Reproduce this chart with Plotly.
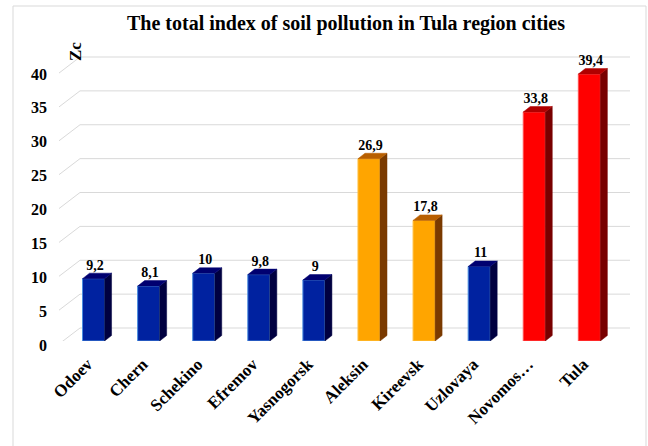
import plotly.graph_objects as go

# ---- data ----
cities = ["Odoev", "Chern", "Schekino", "Efremov", "Yasnogorsk",
          "Aleksin", "Kireevsk", "Uzlovaya", "Novomos…", "Tula"]
zc_values = [9.2, 8.1, 10, 9.8, 9, 26.9, 17.8, 11, 33.8, 39.4]
value_labels = ["9,2", "8,1", "10", "9,8", "9", "26,9", "17,8", "11", "33,8", "39,4"]
groups = ["blue", "blue", "blue", "blue", "blue", "orange", "orange", "blue", "red", "red"]
y_ticks = [0, 5, 10, 15, 20, 25, 30, 35, 40]

# ---- styles ----
FONT = "Liberation Serif, Times New Roman, serif"
palette = {
    "blue":   dict(front="#0022A0", side="#000040", top="#000070", edge="#4A8EE0"),
    "orange": dict(front="#FFA500", side="#7A3A00", top="#B85F00", edge="#FFC040"),
    "red":    dict(front="#FF0000", side="#780000", top="#B00000", edge="#FF5050"),
}
W = 648
H = 446
ML, MR, MT, MB = 66, 18, 40, 105
plot_w = W - ML - MR
plot_h = H - MT - MB
px_per_unit = 6.775
y_max = plot_h / px_per_unit
band_px = 55.09
x_dom_end = (band_px * len(cities)) / plot_w

half = 0.2            # half bar width (category units)
dx = 7 / band_px      # depth offset in x units
dy = 5.5 / px_per_unit  # depth offset in y units
back_shift = 13 / px_per_unit  # back wall grid shift

fig = go.Figure()

# front faces
fig.add_trace(go.Bar(
    x=list(range(len(cities))), y=zc_values, width=2 * half,
    marker=dict(color=[palette[g]["front"] for g in groups],
                line=dict(color=[palette[g]["edge"] for g in groups], width=1)),
    hoverinfo="skip", showlegend=False))

# side and top faces (3D effect) derived from the values
for i, (v, g) in enumerate(zip(zc_values, groups)):
    c = palette[g]
    fig.add_trace(go.Scatter(
        x=[i + half, i + half + dx, i + half + dx, i + half, i + half],
        y=[0, dy, v + dy, v, 0],
        fill="toself", fillcolor=c["side"], mode="lines",
        line=dict(color=c["side"], width=0.5), hoverinfo="skip", showlegend=False))
    fig.add_trace(go.Scatter(
        x=[i - half, i + half, i + half + dx, i - half + dx, i - half],
        y=[v, v, v + dy, v + dy, v],
        fill="toself", fillcolor=c["top"], mode="lines",
        line=dict(color=c["top"], width=0.5), hoverinfo="skip", showlegend=False))

# value labels
fig.add_trace(go.Scatter(
    x=[i + dx * 0.2 for i in range(len(cities))],
    y=[v + dy for v in zc_values],
    text=value_labels, mode="text", textposition="top center",
    textfont=dict(family=FONT, size=14, color="black", weight="bold"),
    hoverinfo="skip", showlegend=False, cliponaxis=False))

# back wall gridlines and side-wall diagonals
shapes = []
x_back0 = (80 - ML) / plot_w
x_diag0 = (59 - ML) / plot_w
for t in y_ticks:
    shapes.append(dict(type="line", xref="paper", yref="y", layer="below",
                       x0=x_back0, x1=1, y0=t + back_shift, y1=t + back_shift,
                       line=dict(color="#D9D9D9", width=1)))
    shapes.append(dict(type="line", xref="paper", yref="y", layer="below",
                       x0=x_diag0, x1=x_back0, y0=t - 0.45, y1=t + back_shift,
                       line=dict(color="#D9D9D9", width=1)))
# outer frame
shapes.append(dict(type="rect", xref="paper", yref="paper", layer="below",
                   x0=(13 - ML) / plot_w, x1=(646 - ML) / plot_w,
                   y0=(MB - H - 10) / plot_h, y1=(H - MB - 6) / plot_h,
                   line=dict(color="#D9D9D9", width=1), fillcolor="rgba(0,0,0,0)"))

fig.update_layout(
    width=W, height=H,
    margin=dict(l=ML, r=MR, t=MT, b=MB, autoexpand=False),
    paper_bgcolor="white", plot_bgcolor="rgba(0,0,0,0)",
    title=dict(text="The total index of soil pollution in Tula region cities",
               x=346 / W, xanchor="center", y=1 - 23 / H, yanchor="middle",
               font=dict(family=FONT, size=20, color="black", weight="bold")),
    xaxis=dict(range=[-0.5, len(cities) - 0.5], domain=[0, x_dom_end],
               tickvals=list(range(len(cities))), ticktext=cities,
               tickangle=-45, showgrid=False, zeroline=False, showline=False,
               ticklabelstandoff=9, ticklabelshift=-6,
               tickfont=dict(family=FONT, size=17, color="black", weight="bold")),
    yaxis=dict(range=[0, y_max], tickvals=y_ticks, showgrid=False, zeroline=False,
               showline=False, ticklabelstandoff=18, ticklabelshift=4,
               tickfont=dict(family=FONT, size=16, color="black", weight="bold")),
    shapes=shapes,
    annotations=[dict(text="<b>Zc</b>", xref="paper", yref="paper",
                      x=(75 - ML) / plot_w, y=(H - MB - 52) / plot_h,
                      xanchor="center", yanchor="middle",
                      showarrow=False, textangle=-90,
                      font=dict(family=FONT, size=17, color="black"))],
    showlegend=False,
)

fig.write_html("out.html")
